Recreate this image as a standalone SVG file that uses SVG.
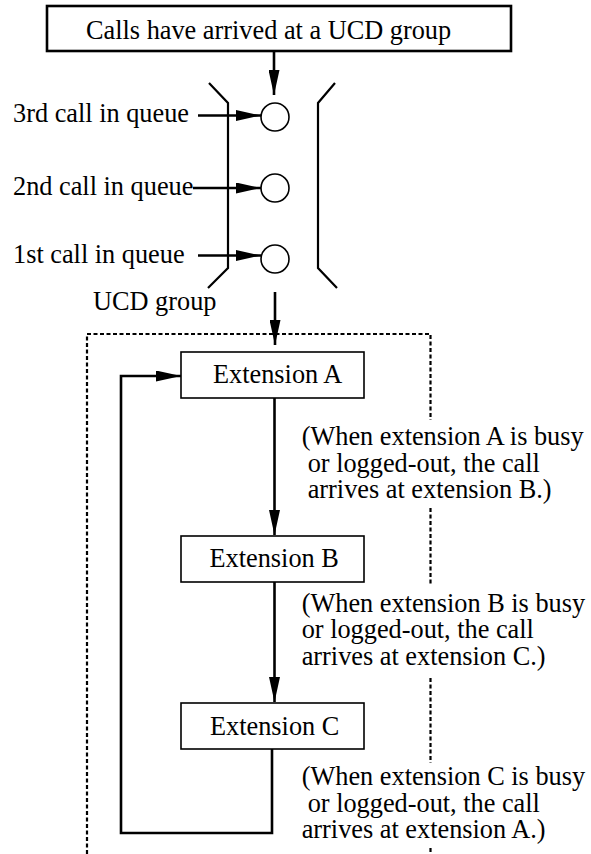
<svg xmlns="http://www.w3.org/2000/svg" width="591" height="854" viewBox="0 0 591 854">
<defs>
<marker id="ah" viewBox="0 0 25 11" refX="25" refY="5.5" markerWidth="25" markerHeight="11" markerUnits="userSpaceOnUse" orient="auto">
<path d="M0,0 L25,5.5 L0,11 z" fill="#000"/>
</marker>
</defs>
<style>
text{font-family:"Liberation Serif","Times New Roman",serif;font-size:26.3px;fill:#000}
.box{fill:#fff;stroke:#000;stroke-width:1.6}
.top{fill:#fff;stroke:#000;stroke-width:2.6}
.conn{fill:none;stroke:#000;stroke-width:2.6}
.arr{marker-end:url(#ah)}
.br{fill:none;stroke:#000;stroke-width:2.2}
.dash{fill:none;stroke:#000;stroke-width:2.2;stroke-dasharray:4 2.5}
.q{fill:#fff;stroke:#000;stroke-width:1.6}
</style>
<rect width="591" height="854" fill="#fff"/>

<g id="ucd-area">
<path class="dash" d="M87,854 L87,334 L430.5,334 L430.5,420"/>
<path class="dash" d="M430.5,508 L430.5,585"/>
<path class="dash" d="M430.5,678 L430.5,763"/>
<path class="dash" d="M430.5,848 L430.5,854"/>
</g>

<g id="connectors">
<line class="conn arr" x1="274" y1="51" x2="274" y2="95"/>
<line class="conn arr" x1="198" y1="115.5" x2="261" y2="115.5"/>
<line class="conn arr" x1="193" y1="188" x2="261" y2="188"/>
<line class="conn arr" x1="198" y1="255.5" x2="261" y2="255.5"/>
<line class="conn arr" x1="275" y1="292" x2="275" y2="345"/>
<line class="conn arr" x1="274.5" y1="398" x2="274.5" y2="535"/>
<line class="conn arr" x1="274.5" y1="582" x2="274.5" y2="702"/>
<path class="conn arr" d="M272,749 L272,833 L121,833 L121,376 L181,376"/>
</g>

<g id="top-box">
<rect class="top" x="47" y="6" width="464" height="45"/>
<text x="86" y="39">Calls have arrived at a UCD group</text>
</g>

<g id="queue">
<path class="br" d="M209,83 L228,103 L228,268 L208,288"/>
<path class="br" d="M335,83 L318,103 L318,268 L337,288"/>
<circle class="q" cx="275" cy="117" r="14"/>
<circle class="q" cx="275" cy="188" r="14"/>
<circle class="q" cx="275" cy="259" r="14"/>
<text x="13" y="122">3rd call in queue</text>
<text x="13" y="195">2nd call in queue</text>
<text x="13" y="263">1st call in queue</text>
<text x="93" y="310">UCD group</text>
</g>

<g id="ext-a">
<rect class="box" x="181" y="352" width="183" height="46"/>
<text x="213" y="383">Extension A</text>
</g>
<g id="ext-b">
<rect class="box" x="181" y="536" width="183" height="46"/>
<text x="209.5" y="567">Extension B</text>
</g>
<g id="ext-c">
<rect class="box" x="181" y="703" width="183" height="46"/>
<text x="210" y="735">Extension C</text>
</g>

<g id="note-a">
<text x="301.7" y="445">(When extension A is busy</text>
<text x="307.7" y="471.7">or logged-out, the call</text>
<text x="307.7" y="498.3">arrives at extension B.)</text>
</g>
<g id="note-b">
<text x="301.7" y="611.7">(When extension B is busy</text>
<text x="301.7" y="638.3">or logged-out, the call</text>
<text x="301.7" y="665">arrives at extension C.)</text>
</g>
<g id="note-c">
<text x="301.7" y="785">(When extension C is busy</text>
<text x="307.7" y="811.7">or logged-out, the call</text>
<text x="301.7" y="838.3">arrives at extension A.)</text>
</g>
</svg>
